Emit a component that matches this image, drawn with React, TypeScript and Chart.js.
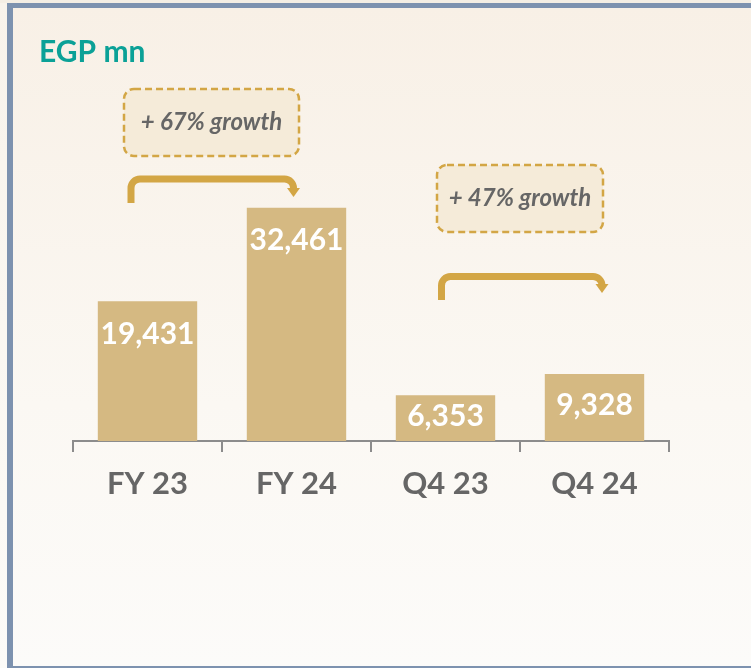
import React, { useEffect, useRef } from 'react';
import { Chart, registerables } from 'chart.js';

Chart.register(...registerables);

const categories = ['FY 23', 'FY 24', 'Q4 23', 'Q4 24'];
const revenue = [19431, 32461, 6353, 9328];
const growthLabels = ['+ 67% growth', '+ 47% growth'];
const growthPairs = [
  [0, 1],
  [2, 3],
];
const unitLabel = 'EGP mn';

const FONT = 'Lato, "Open Sans", sans-serif';
const GOLD = '#D3A645';
const BAR = '#D5B982';

// decoration layout (pixels)
const arrowLayout = [
  { dx1: -16.5, dx2: -3, y: 179, bottom: 203, tip: 197 },
  { dx1: -4, dx2: 7.5, y: 276.5, bottom: 300, tip: 293 },
];
const boxLayout = [
  { dx: -10.5, cy: 122.5, w: 175, h: 67 },
  { dx: 0, cy: 198.5, w: 166, h: 67 },
];

function roundRect(ctx: CanvasRenderingContext2D, x: number, y: number, w: number, h: number, r: number) {
  ctx.beginPath();
  ctx.moveTo(x + r, y);
  ctx.lineTo(x + w - r, y);
  ctx.arcTo(x + w, y, x + w, y + r, r);
  ctx.lineTo(x + w, y + h - r);
  ctx.arcTo(x + w, y + h, x + w - r, y + h, r);
  ctx.lineTo(x + r, y + h);
  ctx.arcTo(x, y + h, x, y + h - r, r);
  ctx.lineTo(x, y + r);
  ctx.arcTo(x, y, x + r, y, r);
  ctx.closePath();
}

const decorPlugin = {
  id: 'decor',
  beforeDraw(chart: any) {
    const ctx: CanvasRenderingContext2D = chart.ctx;
    const W = chart.width;
    const H = chart.height;
    ctx.save();
    ctx.fillStyle = '#F4EEE4';
    ctx.fillRect(0, 0, W, H);
    const lg = ctx.createLinearGradient(0, 0, 0, H);
    lg.addColorStop(0, '#F8F3EB');
    lg.addColorStop(1, '#FCFBF8');
    ctx.fillStyle = lg;
    ctx.fillRect(0, 3, 7, H);
    const g = ctx.createLinearGradient(0, 8, 0, H);
    g.addColorStop(0, '#F8F0E6');
    g.addColorStop(0.6, '#FBF8F3');
    g.addColorStop(1, '#FCFBF9');
    ctx.fillStyle = g;
    ctx.fillRect(13, 8, W - 13, H - 10);
    ctx.fillStyle = '#7D92AF';
    ctx.fillRect(7, 3, W - 7, 5);
    ctx.fillRect(7, 3, 6, H - 3);
    ctx.fillRect(7, 666, W - 7, 2);
    // title
    ctx.fillStyle = '#0BA197';
    ctx.font = `bold 30px ${FONT}`;
    ctx.textBaseline = 'alphabetic';
    ctx.textAlign = 'left';
    ctx.fillText(unitLabel, 39, 62);
    ctx.restore();
  },
  afterDatasetsDraw(chart: any) {
    const ctx: CanvasRenderingContext2D = chart.ctx;
    const meta = chart.getDatasetMeta(0);
    ctx.save();
    // bar value labels
    ctx.fillStyle = '#FFFFFF';
    ctx.font = `bold 30px ${FONT}`;
    ctx.textAlign = 'center';
    ctx.textBaseline = 'middle';
    meta.data.forEach((el: any, i: number) => {
      const mid = (el.y + el.base) / 2;
      const y = Math.min(el.y + 33, mid - 2);
      ctx.fillText(revenue[i].toLocaleString('en-US'), el.x, y);
    });
    // growth arrows and boxes
    growthPairs.forEach(([a, b], k) => {
      const xa = meta.data[a].x;
      const xb = meta.data[b].x;
      const L = arrowLayout[k];
      const x1 = xa + L.dx1;
      const x2 = xb + L.dx2;
      const r = 9;
      ctx.strokeStyle = GOLD;
      ctx.fillStyle = GOLD;
      ctx.lineWidth = 7;
      ctx.lineCap = 'butt';
      ctx.setLineDash([]);
      ctx.beginPath();
      ctx.moveTo(x1, L.bottom);
      ctx.lineTo(x1, L.y + r);
      ctx.arcTo(x1, L.y, x1 + r, L.y, r);
      ctx.lineTo(x2 - r, L.y);
      ctx.arcTo(x2, L.y, x2, L.y + r, r);
      ctx.lineTo(x2, L.tip - 8);
      ctx.stroke();
      ctx.beginPath();
      ctx.moveTo(x2 - 6.5, L.tip - 9);
      ctx.lineTo(x2 + 6.5, L.tip - 9);
      ctx.lineTo(x2, L.tip);
      ctx.closePath();
      ctx.fill();

      const B = boxLayout[k];
      const cx = (xa + xb) / 2 + B.dx;
      const bx = cx - B.w / 2;
      const by = B.cy - B.h / 2;
      roundRect(ctx, bx, by, B.w, B.h, 10);
      ctx.fillStyle = '#F5EBD9';
      ctx.fill();
      ctx.setLineDash([7, 4]);
      ctx.lineWidth = 2.5;
      ctx.strokeStyle = GOLD;
      ctx.stroke();
      ctx.setLineDash([]);
      ctx.fillStyle = '#666666';
      ctx.font = `italic bold 24px ${FONT}`;
      ctx.textAlign = 'center';
      ctx.textBaseline = 'middle';
      ctx.fillText(growthLabels[k], cx, B.cy);
    });
    ctx.restore();
  },
};

export default function App() {
  const ref = useRef<HTMLCanvasElement | null>(null);
  useEffect(() => {
    if (!ref.current) return;
    const chart = new Chart(ref.current, {
      type: 'bar',
      data: {
        labels: categories,
        datasets: [
          {
            data: revenue,
            backgroundColor: BAR,
            borderWidth: 0,
            barPercentage: 0.667,
            categoryPercentage: 1,
          },
        ],
      },
      options: {
        responsive: false,
        animation: false,
        devicePixelRatio: 1,
        layout: { padding: { left: 73, right: 82, top: 117.5, bottom: 152.8 } },
        plugins: { legend: { display: false }, tooltip: { enabled: false } },
        scales: {
          x: {
            grid: {
              display: true,
              drawOnChartArea: false,
              drawTicks: true,
              tickLength: 11,
              color: '#8C8C8C',
              lineWidth: 2,
              offset: true,
            },
            border: { display: true, color: '#8C8C8C', width: 2 },
            ticks: {
              color: '#666666',
              font: { family: FONT, size: 31, weight: 'bold' },
              padding: 13,
              maxRotation: 0,
              autoSkip: false,
            },
          },
          y: { display: false, min: 0, max: 45000 },
        },
      },
      plugins: [decorPlugin],
    });
    return () => chart.destroy();
  }, []);
  return (
    <div style={{ position: 'absolute', left: 0, top: 0, width: 751, height: 668 }}>
      <canvas ref={ref} width={751} height={668} style={{ width: 751, height: 668, display: 'block' }} />
    </div>
  );
}
